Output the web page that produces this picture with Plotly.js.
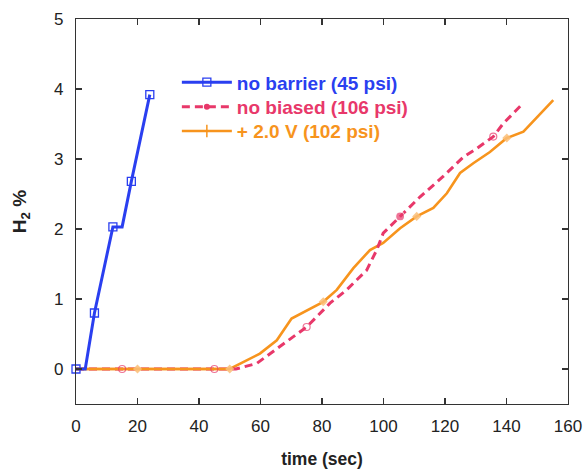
<!DOCTYPE html>
<html>
<head>
<meta charset="utf-8">
<script src="https://cdn.plot.ly/plotly-3.0.1.min.js"></script>
<style>html,body{margin:0;padding:0;background:#fff;}#chart{width:584px;height:469px;}</style>
</head>
<body>
<div id="chart"></div>
<script>
// ---- data ----
const seriesNames = ['no barrier (45 psi)', 'no biased (106 psi)', '+ 2.0 V (102 psi)'];

// no barrier (45 psi)
const blueX = [0, 3, 6, 12, 15, 18, 24];
const blueY = [0, 0, 0.8, 2.03, 2.03, 2.68, 3.92];
const blueMarkX = [0, 6, 12, 18, 24];
const blueMarkY = [0, 0.8, 2.03, 2.68, 3.92];

// no biased (106 psi)
const redX = [0, 15, 45, 52, 58.8, 64.2, 70, 75, 82.6, 88, 94.5, 97.8, 99.9, 105.4, 111.9, 119.4, 126, 130.3, 135.7, 139, 145.5];
const redY = [0, 0, 0, 0, 0.08, 0.25, 0.43, 0.6, 0.94, 1.13, 1.41, 1.7, 1.94, 2.18, 2.46, 2.75, 3.03, 3.15, 3.32, 3.51, 3.8];
const redMarkX = [15, 45, 75, 105.4, 135.7];
const redMarkY = [0, 0, 0.6, 2.18, 3.32];

// + 2.0 V (102 psi)
const orangeX = [0, 20, 50, 59.8, 65.3, 70.1, 75, 80.4, 84.8, 90.2, 95.6, 99.9, 105.4, 110.8, 116.2, 120.6, 124.9, 129.2, 134.6, 140.1, 145.5, 155.2];
const orangeY = [0, 0, 0, 0.22, 0.41, 0.72, 0.84, 0.96, 1.13, 1.44, 1.7, 1.8, 2.01, 2.18, 2.3, 2.51, 2.8, 2.94, 3.1, 3.3, 3.39, 3.84];
const orangeMarkX = [20, 50, 80.4, 110.8, 140.1];
const orangeMarkY = [0, 0, 0.96, 2.18, 3.3];

const xTicks = [0, 20, 40, 60, 80, 100, 120, 140, 160];
const yTicks = [0, 1, 2, 3, 4, 5];

// ---- styles ----
const BLUE = '#2a3ff0';
const RED = '#e8386a';
const ORANGE = '#f7941d';
const FONT = 'Liberation Sans, Arial, sans-serif';

const traces = [
  // lines
  {x: orangeX, y: orangeY, mode: 'lines', line: {color: ORANGE, width: 2.6}, showlegend: false, hoverinfo: 'skip'},
  {x: redX, y: redY, mode: 'lines', line: {color: RED, width: 3, dash: '8px,5px'}, showlegend: false, hoverinfo: 'skip'},
  {x: orangeX.slice(0, 3), y: orangeY.slice(0, 3), mode: 'lines', line: {color: ORANGE, width: 2.6}, showlegend: false, hoverinfo: 'skip'},
  {x: blueX, y: blueY, mode: 'lines', line: {color: BLUE, width: 3}, showlegend: false, hoverinfo: 'skip'},
  // markers
  {x: orangeMarkX, y: orangeMarkY, mode: 'markers', cliponaxis: false,
   marker: {symbol: 'diamond', size: 7, color: 'rgba(250,190,120,0.85)', line: {width: 0}}, showlegend: false},
  {x: redMarkX, y: redMarkY, mode: 'markers', cliponaxis: false,
   marker: {symbol: ['circle-open', 'circle-open', 'circle-open', 'circle', 'circle-open'], size: [7, 7, 7, 9, 7], color: RED, line: {width: 1.2}}, showlegend: false},
  {x: blueMarkX, y: blueMarkY, mode: 'markers', cliponaxis: false,
   marker: {symbol: 'square-open', size: 8, color: BLUE, line: {width: 1.3}}, showlegend: false},
  // legend entries
  {x: [null], y: [null], mode: 'lines+markers', legend: 'legend', name: '<span style="color:' + BLUE + '">' + seriesNames[0] + '</span>',
   line: {color: BLUE, width: 3}, marker: {symbol: 'square-open', size: 8, color: BLUE, line: {width: 1.3}}},
  {x: [null], y: [null], mode: 'lines+markers', legend: 'legend2', name: '<span style="color:' + RED + '">' + seriesNames[1] + '</span>',
   line: {color: RED, width: 3, dash: '8px,5px'}, marker: {symbol: 'circle', size: 6, color: RED}},
  {x: [null], y: [null], mode: 'lines+markers', legend: 'legend3', name: '<span style="color:' + ORANGE + '">' + seriesNames[2] + '</span>',
   line: {color: ORANGE, width: 2.6}, marker: {symbol: 'line-ns-open', size: 9, color: ORANGE, line: {width: 1.5, color: ORANGE}}}
];

const axisCommon = {
  showgrid: false, zeroline: false, showline: true, mirror: 'ticks',
  linecolor: '#333', linewidth: 1.2, ticks: 'inside', ticklen: 6, tickwidth: 1.2, tickcolor: '#333',
  tickfont: {family: FONT, size: 17, color: '#222'}
};

function legendAt(y) {
  return {
    x: 0.205, y: y, xanchor: 'left', yanchor: 'top',
    bgcolor: 'rgba(0,0,0,0)', borderwidth: 0, itemwidth: 50,
    font: {family: FONT, size: 19, weight: 'bold'}
  };
}

const layout = {
  width: 584, height: 469,
  margin: {l: 76, r: 16, t: 19, b: 65},
  paper_bgcolor: '#fff', plot_bgcolor: '#fff',
  showlegend: true,
  legend: legendAt(0.885),
  legend2: legendAt(0.821),
  legend3: legendAt(0.758),
  xaxis: Object.assign({}, axisCommon, {
    range: [0, 160], tickvals: xTicks, ticktext: xTicks.map(String), ticklabelstandoff: 6,
    title: {text: '<b>time (sec)</b>', font: {family: FONT, size: 17.5, color: '#222'}, standoff: 20}
  }),
  yaxis: Object.assign({}, axisCommon, {
    range: [-0.5, 5], tickvals: yTicks, ticktext: yTicks.map(String), ticklabelstandoff: 8,
    title: {text: '<b>H<sub>2</sub> %</b>', font: {family: FONT, size: 19, color: '#222'}, standoff: 22}
  })
};

Plotly.newPlot('chart', traces, layout, {displayModeBar: false, staticPlot: true});
</script>
</body>
</html>
